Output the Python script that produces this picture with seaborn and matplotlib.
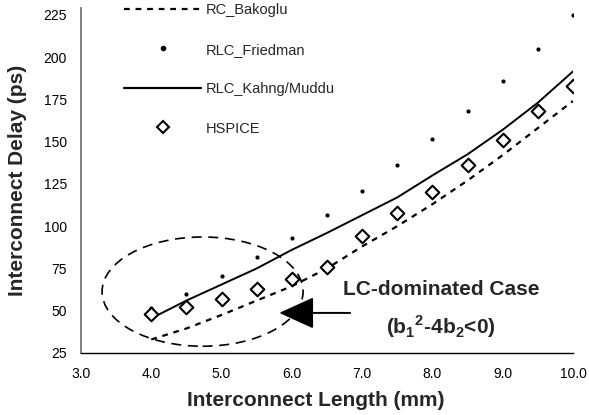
import seaborn as sns
import matplotlib
matplotlib.use('Agg')
import matplotlib.pyplot as plt
from matplotlib.patches import Ellipse
from matplotlib.lines import Line2D
import pandas as pd

# interconnect length (mm)
length = [4.0, 4.5, 5.0, 5.5, 6.0, 6.5, 7.0, 7.5, 8.0, 8.5, 9.0, 9.5, 10.0]

# delays (ps)
rc_bakoglu = [33, 39.5, 47.5, 56, 64.5, 75, 88, 100, 113, 127, 142, 158, 174]
rlc_friedman = [51.5, 60, 70.5, 81.5, 93, 106.5, 120.5, 136, 151.5, 168, 186, 205, 225]
rlc_kahng = [45.5, 56, 65.5, 75, 86, 96, 106.5, 117, 130, 142.5, 157, 173, 191.5]
hspice = [48, 52, 57, 63, 69, 76, 94, 108, 120, 136, 151, 168, 183]

labels = ['RC_Bakoglu', 'RLC_Friedman', 'RLC_Kahng/Muddu', 'HSPICE']

df = pd.DataFrame({'length': length, 'RC_Bakoglu': rc_bakoglu,
                   'RLC_Friedman': rlc_friedman, 'RLC_Kahng/Muddu': rlc_kahng,
                   'HSPICE': hspice})

sns.set_style('white')
plt.rcParams['font.family'] = ['Liberation Sans', 'DejaVu Sans']
plt.rcParams['mathtext.fontset'] = 'custom'
plt.rcParams['mathtext.rm'] = 'Liberation Sans'
plt.rcParams['mathtext.bf'] = 'Liberation Sans:bold'

fig = plt.figure(figsize=(5.89, 4.15), dpi=100)
ax = fig.add_axes([0.1375, 0.1494, 0.8353, 0.8313])

dash = (0, (2.6, 2.6))
sns.lineplot(data=df, x='length', y='RC_Bakoglu', ax=ax, color='black',
             lw=1.6, linestyle=dash)
sns.lineplot(data=df, x='length', y='RLC_Kahng/Muddu', ax=ax, color='black', lw=1.4)
sns.scatterplot(data=df, x='length', y='RLC_Friedman', ax=ax, color='black',
                s=9, edgecolor='black', linewidth=0)
sns.scatterplot(data=df, x='length', y='HSPICE', ax=ax, marker='D', s=48,
                facecolor='white', edgecolor='black', linewidth=1.5, zorder=3)

# dashed ellipse around the LC-dominated region
ax.add_patch(Ellipse((4.73, 61.3), 2.86, 64.6, fill=False, ec='black',
                     lw=1.2, ls=(0, (6, 4))))
ax.annotate('', xy=(5.82, 48.7), xytext=(6.83, 48.7),
            arrowprops=dict(arrowstyle='-|>,head_length=1.1,head_width=0.5',
                            color='black', lw=1.4, mutation_scale=20,
                            shrinkA=0, shrinkB=0))
ax.text(8.12, 62.3, 'LC-dominated Case', fontsize=15, fontweight='bold',
        ha='center', va='center')
ax.text(8.12, 40.5, r'(b$_\mathbf{1}$$^\mathbf{2}$-4b$_\mathbf{2}$<0)', fontsize=15,
        fontweight='bold', ha='center', va='center')

ax.set_xlim(3.0, 10.0)
ax.set_ylim(25, 229)
ax.set_xticks([3, 4, 5, 6, 7, 8, 9, 10])
ax.set_xticklabels(['3.0', '4.0', '5.0', '6.0', '7.0', '8.0', '9.0', '10.0'])
ax.set_yticks([25, 50, 75, 100, 125, 150, 175, 200, 225])
ax.tick_params(direction='in', length=5, width=1, labelsize=10, pad=10,
               colors='black')
ax.tick_params(axis='y', color='#777777')

sns.despine(ax=ax)
ax.spines['left'].set_color('#777777')
ax.spines['left'].set_linewidth(1.3)
ax.spines['bottom'].set_color('black')
ax.spines['bottom'].set_linewidth(1.0)

ax.set_xlabel('Interconnect Length (mm)', fontsize=15, fontweight='bold')
ax.set_ylabel('Interconnect Delay (ps)', fontsize=15, fontweight='bold')
ax.xaxis.set_label_coords(0.478, -0.110)
ax.yaxis.set_label_coords(-0.110, 0.5)

handles = [
    Line2D([], [], color='black', lw=1.6, linestyle=dash),
    Line2D([], [], color='black', marker='o', markersize=3, lw=0),
    Line2D([], [], color='black', lw=1.6),
    Line2D([], [], color='white', marker='D', markersize=6, mec='black',
           mew=1.5, lw=0),
]
ax.legend(handles, labels, loc='upper left', bbox_to_anchor=(124 / 589, 1 - 3 / 415),
          bbox_transform=fig.transFigure, frameon=False, fontsize=10.5,
          handlelength=5.3, handletextpad=0.3, labelspacing=1.75,
          borderpad=0, borderaxespad=0)

fig.savefig('out.png', dpi=100)
